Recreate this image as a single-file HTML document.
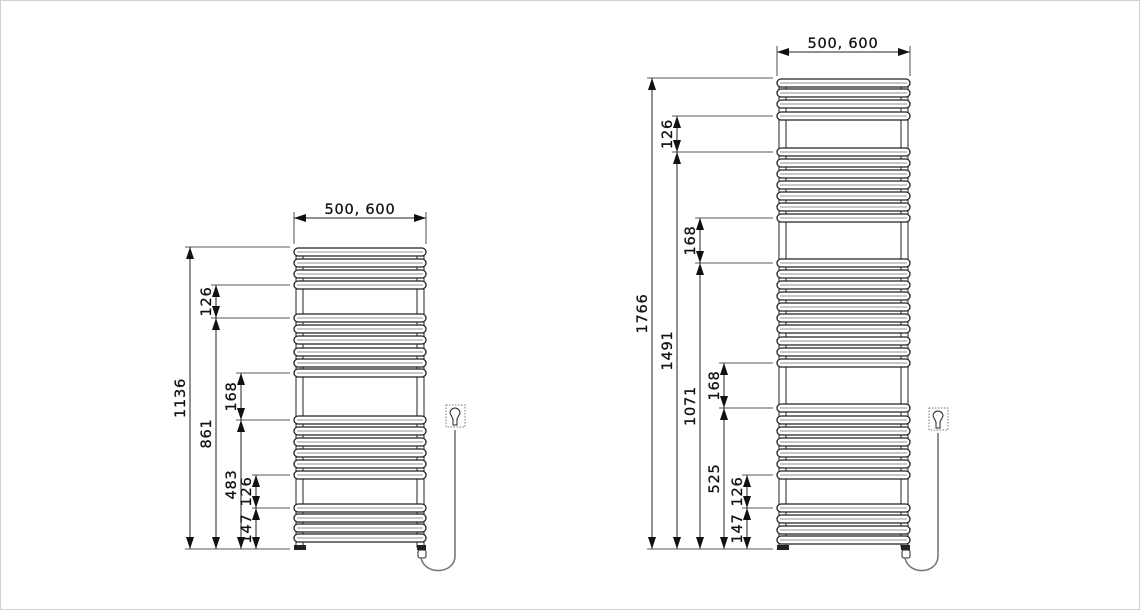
<!DOCTYPE html>
<html><head><meta charset="utf-8"><style>
html,body{margin:0;padding:0;background:#fff}
svg{display:block}
text{font-family:"DejaVu Sans","Liberation Sans",sans-serif;font-size:14.5px;letter-spacing:0.8px;fill:#111;stroke:#111;stroke-width:0.3px}
</style></head><body>
<svg id="s" width="1140" height="610" viewBox="0 0 1140 610" xmlns="http://www.w3.org/2000/svg">
<rect x="0.5" y="0.5" width="1139" height="609" fill="#fff" stroke="#d0d0d0"/>
<g id="g" stroke="#222" fill="none" stroke-width="1"></g>
</svg>
<script>
const g=document.getElementById('g');let h='';
function L(x1,y1,x2,y2,w){h+=`<line x1="${x1}" y1="${y1}" x2="${x2}" y2="${y2}" stroke-width="${w||1}"/>`}
function up(x,y){h+=`<polygon points="${x},${y} ${x-4},${y+12} ${x+4},${y+12}" fill="#111" stroke="none"/>`}
function dn(x,y){h+=`<polygon points="${x},${y} ${x-4},${y-12} ${x+4},${y-12}" fill="#111" stroke="none"/>`}
function vdim(x,y1,y2,t){L(x,y1,x,y2);up(x,y1);dn(x,y2);
 const cy=(y1+y2)/2;h+=`<text transform="translate(${x-5},${cy}) rotate(-90)" text-anchor="middle">${t}</text>`}
function ext(x1,x2,y){L(x1,y,x2,y,0.8)}
function rad(x1,x2,top,bot,bars){
 h+=`<rect x="${x1+2}" y="${top+4}" width="7" height="${bot-top-6}" fill="#fff"/>`;
 h+=`<rect x="${x2-9}" y="${top+4}" width="7" height="${bot-top-6}" fill="#fff"/>`;
 h+=`<circle cx="${x1+5}" cy="${top+5}" r="4" fill="#fff"/><circle cx="${x2-5}" cy="${top+5}" r="4" fill="#fff"/>`;
 for(const y of bars){h+=`<rect x="${x1}" y="${y-4}" width="${x2-x1}" height="8" rx="4" fill="#fff" stroke-width="1.3"/>`;
  L(x1+3,y,x2-3,y,0.6)}
 h+=`<rect x="${x1}" y="${bot-4}" width="12" height="5" fill="#222" stroke="none"/>`;
 h+=`<rect x="${x2-9}" y="${bot-4}" width="9" height="5" fill="#222" stroke="none"/>`;
 h+=`<rect x="${x2-8}" y="${bot+1}" width="8" height="8" rx="2" fill="#fff"/>`;
}
function plug(px,py,rx,ry){
 h+=`<rect x="${px-9}" y="${py}" width="19" height="22" stroke="#777" stroke-dasharray="1.5,1.5"/>`;
 h+=`<path d="M${px-5},${py+8} a5,5 0 1 1 10,0 l-3,6 l0,6 l-4,0 l0,-6 z" fill="#fff"/>`;
 h+=`<path d="M${px},${py+25} L${px},${ry+8} C${px},${ry+26} ${rx+4},${ry+28} ${rx},${ry+10}" stroke="#777" stroke-width="1.6"/>`;
}
rad(294,426,247,549,[252,263,274,285,318,329,340,352,363,373,420,431,442,453,464,475,508,518,528,538]);
[[247,185],[285,211],[318,211],[373,236],[420,236],[475,252],[508,252],[549,185]].forEach(a=>ext(a[1],290,a[0]));
vdim(190,247,549,'1136');vdim(216,285,318,'126');vdim(216,318,549,'861');
vdim(241,373,420,'168');vdim(241,420,549,'483');vdim(256,475,508,'126');vdim(256,508,549,'147');
L(294,212,294,244,0.8);L(426,212,426,244,0.8);L(294,218,426,218);
h+=`<polygon points="294,218 306,214 306,222" fill="#111" stroke="none"/><polygon points="426,218 414,214 414,222" fill="#111" stroke="none"/>`;
h+=`<text x="360" y="214" text-anchor="middle">500, 600</text>`;
plug(455,405,421,548);
rad(777,910,78,549,[83,93,104,116,152,163,174,185,196,207,218,263,274,285,296,307,318,329,341,352,363,408,420,431,442,453,464,475,508,519,530,540]);
[[78,647],[116,672],[152,672],[218,695],[263,695],[363,719],[408,719],[475,742],[508,742],[549,647]].forEach(a=>ext(a[1],773,a[0]));
vdim(652,78,549,'1766');vdim(677,116,152,'126');vdim(677,152,549,'1491');
vdim(700,218,263,'168');vdim(700,263,549,'1071');vdim(724,363,408,'168');vdim(724,408,549,'525');
vdim(747,475,508,'126');vdim(747,508,549,'147');
L(777,46,777,76,0.8);L(910,46,910,76,0.8);L(777,52,910,52);
h+=`<polygon points="777,52 789,48 789,56" fill="#111" stroke="none"/><polygon points="910,52 898,48 898,56" fill="#111" stroke="none"/>`;
h+=`<text x="843" y="48" text-anchor="middle">500, 600</text>`;
plug(938,408,905,548);
g.innerHTML=h;
</script>
</body></html>
